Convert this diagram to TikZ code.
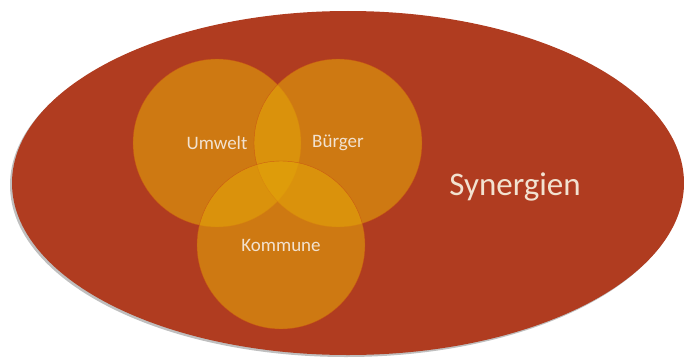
\documentclass[tikz,border=0pt]{standalone}
\usepackage{fontspec}
\setmainfont{Carlito}
\definecolor{rouille}{RGB}{176,60,32}
\definecolor{orangeV}{RGB}{226,163,9}
\definecolor{bordV}{RGB}{200,80,20}
\definecolor{texteV}{RGB}{242,226,208}
\tikzset{
  venn/.style={circle, minimum size=168pt, inner sep=0pt, fill=orangeV, fill opacity=0.6,
    draw=bordV, draw opacity=0.8, thin, text opacity=1, text=texteV, font=\fontsize{19}{19}\selectfont},
}
\begin{document}
\begin{tikzpicture}[x=1pt,y=-1pt]
\useasboundingbox (0,0) rectangle (684,361);
% L'ombre puis la grande ellipse
\fill[black!25] (346,185) ellipse [x radius=336, y radius=172];
\fill[rouille] (348,183) ellipse [x radius=336, y radius=172];
% Les trois cercles
\node[venn] (umwelt) at (217,143) {Umwelt};
\node[venn] (buerger) at (338,143) {Bürger};
\node[venn] (kommune) at (281,245) {Kommune};
\node[text=texteV, font=\fontsize{33}{33}\selectfont] (synergien) at (515,187) {Synergien};
\end{tikzpicture}
\end{document}
